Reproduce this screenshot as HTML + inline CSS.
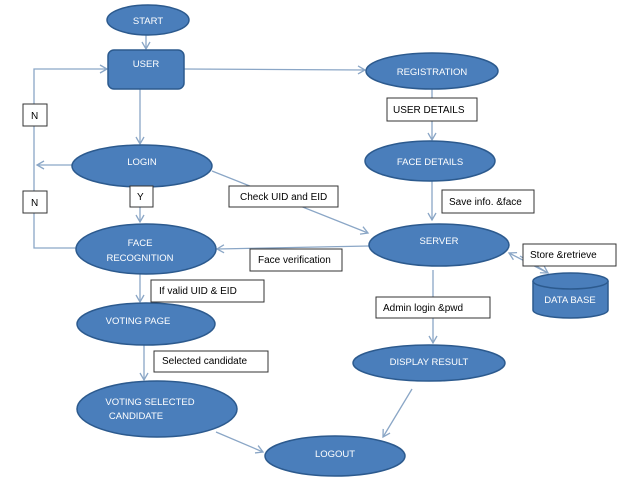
<!DOCTYPE html>
<html><head><style>
body{margin:0;background:#fff;}
svg{display:block;font-family:"Liberation Sans",sans-serif;}
.n{fill:#4a7ebb;stroke:#2c5a8e;stroke-width:1.5;}
.t{fill:#fff;font-size:9.5px;text-anchor:middle;}
.b{fill:#fff;stroke:#333;stroke-width:1;}
.bt{fill:#000;font-size:10px;}
.l{stroke:#8aa6c6;stroke-width:1.3;fill:none;}
</style></head><body>
<svg width="627" height="503" viewBox="0 0 627 503">
<defs><marker id="a" markerWidth="10" markerHeight="10" refX="8" refY="5" orient="auto" markerUnits="userSpaceOnUse"><path d="M1,1 L8,5 L1,9" fill="none" stroke="#8aa6c6" stroke-width="1.3"/></marker></defs>
<!-- connectors -->
<line class="l" x1="146" y1="35" x2="146" y2="49" marker-end="url(#a)"/>
<line class="l" x1="184" y1="69" x2="365" y2="70" marker-end="url(#a)"/>
<line class="l" x1="140" y1="89" x2="140" y2="144" marker-end="url(#a)"/>
<polyline class="l" points="77,248 34,248 34,69 107,69" marker-end="url(#a)"/>
<line class="l" x1="72" y1="165" x2="37" y2="165" marker-end="url(#a)"/>
<line class="l" x1="140" y1="187" x2="140" y2="222" marker-end="url(#a)"/>
<line class="l" x1="212" y1="171" x2="368" y2="233" marker-end="url(#a)"/>
<line class="l" x1="432" y1="89" x2="432" y2="140" marker-end="url(#a)"/>
<line class="l" x1="432" y1="181" x2="432" y2="220" marker-end="url(#a)"/>
<line class="l" x1="369" y1="246" x2="217" y2="249" marker-end="url(#a)"/>
<line class="l" x1="140" y1="274" x2="140" y2="302" marker-end="url(#a)"/>
<line class="l" x1="144" y1="345" x2="144" y2="380" marker-end="url(#a)"/>
<line class="l" x1="216" y1="432" x2="263" y2="452" marker-end="url(#a)"/>
<line class="l" x1="433" y1="270" x2="433" y2="343" marker-end="url(#a)"/>
<line class="l" x1="412" y1="389" x2="383" y2="437" marker-end="url(#a)"/>
<line class="l" x1="548" y1="273" x2="509" y2="253" marker-end="url(#a)"/>
<line class="l" x1="520" y1="256" x2="548" y2="273" marker-end="url(#a)"/>
<!-- nodes -->
<ellipse class="n" cx="148" cy="20" rx="41" ry="15"/><text class="t" x="148" y="24">START</text>
<rect class="n" x="108" y="50" width="76" height="39" rx="6"/><text class="t" x="146" y="67">USER</text>
<ellipse class="n" cx="432" cy="71" rx="66" ry="18"/><text class="t" x="432" y="75">REGISTRATION</text>
<ellipse class="n" cx="430" cy="161" rx="65" ry="20"/><text class="t" x="430" y="165">FACE DETAILS</text>
<ellipse class="n" cx="439" cy="245" rx="70" ry="21"/><text class="t" x="439" y="244">SERVER</text>
<ellipse class="n" cx="142" cy="166" rx="70" ry="21"/><text class="t" x="142" y="165">LOGIN</text>
<ellipse class="n" cx="146" cy="249" rx="70" ry="25"/><text class="t" x="140" y="246">FACE</text><text class="t" x="140" y="261">RECOGNITION</text>
<ellipse class="n" cx="146" cy="324" rx="69" ry="21"/><text class="t" x="138" y="324">VOTING PAGE</text>
<ellipse class="n" cx="157" cy="409" rx="80" ry="28"/><text class="t" x="150" y="405">VOTING SELECTED</text><text class="t" x="136" y="419">CANDIDATE</text>
<ellipse class="n" cx="335" cy="456" rx="70" ry="20"/><text class="t" x="335" y="457">LOGOUT</text>
<ellipse class="n" cx="429" cy="363" rx="76" ry="18"/><text class="t" x="429" y="365">DISPLAY RESULT</text>
<path class="n" d="M533,281 L533,310 A37.5,8 0 0 0 608,310 L608,281"/>
<ellipse class="n" cx="570.5" cy="281" rx="37.5" ry="8"/>
<text class="t" x="570" y="303">DATA BASE</text>
<!-- labels -->
<rect class="b" x="387" y="98" width="90" height="23"/><text class="bt" x="393" y="113">USER DETAILS</text>
<rect class="b" x="442" y="190" width="92" height="23"/><text class="bt" x="449" y="205">Save info. &amp;face</text>
<rect class="b" x="523" y="244" width="93" height="22"/><text class="bt" x="530" y="258">Store &amp;retrieve</text>
<rect class="b" x="376" y="297" width="114" height="21"/><text class="bt" x="383" y="311">Admin login &amp;pwd</text>
<rect class="b" x="23" y="104" width="24" height="22"/><text class="bt" x="31" y="119">N</text>
<rect class="b" x="23" y="191" width="24" height="22"/><text class="bt" x="31" y="206">N</text>
<rect class="b" x="130" y="186" width="23" height="21"/><text class="bt" x="137" y="200">Y</text>
<rect class="b" x="229" y="186" width="109" height="21"/><text class="bt" x="240" y="200">Check UID and EID</text>
<rect class="b" x="250" y="249" width="92" height="22"/><text class="bt" x="258" y="263">Face verification</text>
<rect class="b" x="151" y="280" width="113" height="22"/><text class="bt" x="159" y="294">If valid UID &amp; EID</text>
<rect class="b" x="154" y="351" width="114" height="21"/><text class="bt" x="162" y="364">Selected  candidate</text>
</svg>
</body></html>
